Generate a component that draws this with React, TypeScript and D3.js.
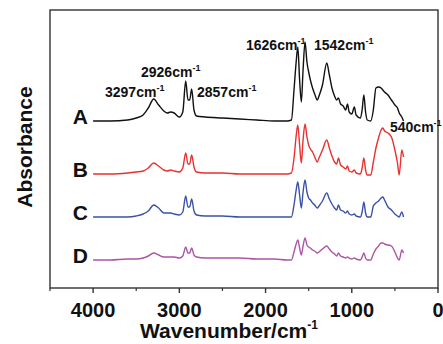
import React, { useEffect, useRef } from 'react';
import * as d3 from 'd3';

// wavenumber grid (cm-1), shared by all spectra
const wavenumbers = [
  4000, 3800, 3600, 3500, 3420, 3360, 3297, 3240, 3180, 3140,
  3100, 3060, 3000, 2960, 2926, 2900, 2880, 2857, 2830, 2800,
  2700, 2500, 2300, 2100, 1900, 1750, 1700, 1670, 1645, 1626,
  1605, 1585, 1565, 1542, 1520, 1500, 1480, 1455, 1430, 1400,
  1380, 1340, 1290, 1260, 1230, 1200, 1175, 1155, 1130, 1100,
  1070, 1050, 1030, 1000, 970, 950, 900, 880, 860, 840,
  820, 780, 750, 720, 690, 660, 640, 620, 580, 540,
  500, 470, 450, 420, 400
];

// absorbance above each spectrum's own baseline (a.u. x100)
const spectrumA = [
  0, 0, 1, 3, 6, 13, 22, 16, 10, 8,
  9, 8, 4, 9, 40, 21, 21, 32, 11, 5,
  4, 3, 2, 1, 0, 0, 1, 31, 59, 74,
  41, 19, 51, 79, 59, 49, 41, 33, 27, 21,
  25, 36, 58, 46, 33, 25, 21, 23, 17, 15,
  11, 17, 9, 7, 14, 6, 3, 11, 26, 9,
  1, 0, 11, 33, 34, 33, 31, 29, 26, 21,
  16, 13, 8, 4, 0
];
const spectrumB = [
  0, 0, 1, 2, 3, 6, 11, 8, 4, 3,
  4, 3, 2, 6, 21, 10, 10, 19, 7, 2,
  1, 1, 0, 0, 0, 0, 1, 16, 38, 49,
  29, 11, 34, 50, 37, 29, 25, 22, 17, 12,
  16, 24, 34, 26, 18, 12, 10, 16, 9, 7,
  5, 8, 3, 2, 4, 1, 0, 6, 16, 4,
  -1, -1, 12, 26, 36, 44, 46, 43, 41, 37,
  24, 11, -1, 24, 17
];
const spectrumC = [
  0, 0, 0, 1, 3, 6, 12, 9, 4, 4,
  4, 3, 2, 5, 21, 10, 10, 18, 6, 2,
  1, 1, 0, 0, 0, 0, 0, 12, 27, 35,
  22, 9, 25, 37, 25, 19, 17, 14, 12, 9,
  11, 16, 24, 18, 13, 9, 7, 12, 7, 6,
  4, 6, 3, 2, 3, 1, 0, 5, 15, 4,
  0, 0, 11, 14, 16, 19, 20, 17, 10, 7,
  3, 1, 0, 5, 0
];
const spectrumD = [
  0, 0, 1, 1, 2, 4, 7, 5, 3, 3,
  3, 3, 2, 4, 13, 7, 7, 12, 5, 3,
  2, 2, 2, 1, 1, 0, 0, 8, 16, 20,
  12, 5, 14, 22, 15, 13, 12, 10, 9, 7,
  8, 11, 14, 11, 8, 6, 4, 7, 4, 3,
  2, 3, 2, 1, 2, 1, 0, 3, 7, 2,
  0, 0, 6, 11, 14, 17, 17, 16, 15, 14,
  8, 2, 0, 10, 7
];

const seriesNames = ['A', 'B', 'C', 'D'];
const seriesValues = [spectrumA, spectrumB, spectrumC, spectrumD];
const seriesOffsets = [167, 114, 71, 28];
const seriesColors = ['#111111', '#e8312f', '#3a52a6', '#ac55a4'];

const majorTicks = [4000, 3000, 2000, 1000, 0];
const minorTicks = [4500, 3500, 2500, 1500, 500];

const peakLabels = ['3297', '2926', '2857', '1626', '1542', '540'];
// label placement (start x, baseline y) in px
const peakLabelPos = [[105, 97], [141, 77], [197, 97], [246, 50], [314, 50], [390, 132]];

const width = 443;
const height = 344;
const margin = { top: 10, right: 5, bottom: 56, left: 50 };
const font = '"Liberation Sans", Arial, Helvetica, sans-serif';

export default function App() {
  const ref = useRef<SVGSVGElement>(null);

  useEffect(() => {
    const svg = d3.select(ref.current);
    svg.selectAll('*').remove();

    const x = d3.scaleLinear().domain([4500, 0]).range([margin.left, width - margin.right]);
    const y = d3.scaleLinear().domain([0, 278]).range([height - margin.bottom, margin.top]);
    const bottom = height - margin.bottom;

    // frame
    svg.append('rect')
      .attr('x', margin.left)
      .attr('y', margin.top)
      .attr('width', width - margin.left - margin.right)
      .attr('height', bottom - margin.top)
      .attr('fill', 'none')
      .attr('stroke', '#333')
      .attr('stroke-width', 1.4);

    // ticks
    svg.append('g').selectAll('line').data(majorTicks).enter().append('line')
      .attr('x1', d => x(d)).attr('x2', d => x(d))
      .attr('y1', bottom).attr('y2', bottom + 5)
      .attr('stroke', '#333').attr('stroke-width', 1.4);
    svg.append('g').selectAll('line').data(minorTicks).enter().append('line')
      .attr('x1', d => x(d)).attr('x2', d => x(d))
      .attr('y1', bottom).attr('y2', bottom + 3)
      .attr('stroke', '#333').attr('stroke-width', 1.2);

    svg.append('g').selectAll('text').data(majorTicks).enter().append('text')
      .attr('x', d => x(d))
      .attr('y', bottom + 29)
      .attr('text-anchor', 'middle')
      .attr('font-family', font)
      .attr('font-weight', 'bold')
      .attr('font-size', 20)
      .attr('fill', '#111')
      .text(d => d);

    // axis titles
    const xt = svg.append('text')
      .attr('x', 140).attr('y', 338)
      .attr('font-family', font).attr('font-weight', 'bold')
      .attr('font-size', 21).attr('fill', '#111');
    xt.append('tspan').text('Wavenumber/cm');
    xt.append('tspan').attr('dy', -9).attr('font-size', 12).text('-1');

    svg.append('text')
      .attr('transform', 'translate(32,147) rotate(-90)')
      .attr('text-anchor', 'middle')
      .attr('font-family', font).attr('font-weight', 'bold')
      .attr('font-size', 21).attr('fill', '#111')
      .text('Absorbance');

    // spectra
    const line = d3.line<number>()
      .x((d, i) => x(wavenumbers[i]))
      .y(d => y(d))
      .curve(d3.curveMonotoneX);

    seriesValues.forEach((vals, k) => {
      svg.append('path')
        .attr('d', line(vals.map(v => v + seriesOffsets[k])))
        .attr('fill', 'none')
        .attr('stroke', seriesColors[k])
        .attr('stroke-width', 1.4)
        .attr('stroke-linejoin', 'round');

      svg.append('text')
        .attr('x', 88)
        .attr('y', y(seriesOffsets[k]) + 3)
        .attr('text-anchor', 'end')
        .attr('font-family', font).attr('font-weight', 'bold')
        .attr('font-size', 21).attr('fill', '#111')
        .text(seriesNames[k]);
    });

    // peak annotations
    peakLabels.forEach((p, i) => {
      const t = svg.append('text')
        .attr('x', peakLabelPos[i][0]).attr('y', peakLabelPos[i][1])
        .attr('font-family', font).attr('font-weight', 'bold')
        .attr('font-size', 14).attr('fill', '#111');
      t.append('tspan').text(p + 'cm');
      t.append('tspan').attr('dy', -6).attr('font-size', 9).text('-1');
    });
  }, []);

  return (
    <svg ref={ref} width={width} height={height}
      style={{ position: 'absolute', left: 0, top: 0, background: '#fff' }} />
  );
}
